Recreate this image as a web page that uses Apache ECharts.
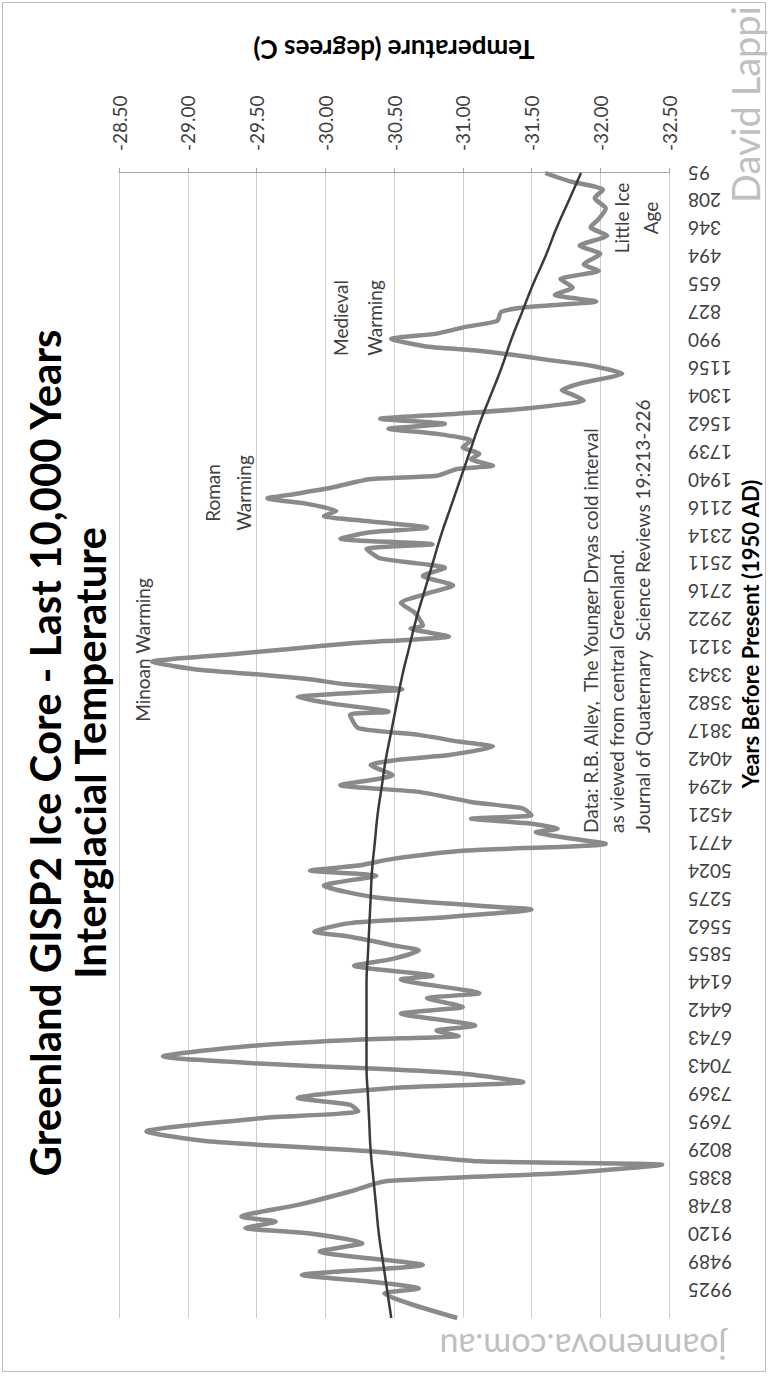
<!DOCTYPE html>
<html><head><meta charset="utf-8">
<script src="https://cdn.jsdelivr.net/npm/echarts@6/dist/echarts.min.js"></script>
<style>
html,body{margin:0;padding:0;background:#fff;overflow:hidden;width:769px;height:1377px;}
#chart{position:absolute;left:0;top:0;width:1377px;height:769px;transform-origin:0 0;transform:translate(0,1377px) rotate(-90deg);}
</style></head><body>
<div id="chart"></div>
<script>
// Category labels (years before present), one per label slot, youngest first
const yearLabels = [95,208,346,494,655,827,990,1156,1304,1562,1739,1940,2116,2314,2511,2716,2922,3121,3343,3582,3817,4042,4294,4521,4771,5024,5275,5562,5855,6144,6442,6743,7043,7369,7695,8029,8385,8748,9120,9489,9925];
// Temperature trace: position along the category axis (in label slots) and temperature (deg C)
const tempPos = [0,0.3,0.6,0.9,1.27,1.64,1.94,2.24,2.6,2.9,3.27,3.5,3.8,4.1,4.36,4.6,4.8,4.97,5.3,5.5,5.76,5.94,6.2,6.35,6.5,6.7,6.88,7.18,7.54,7.78,7.9,8.14,8.44,8.62,8.8,8.98,9.16,9.34,9.58,9.82,10.06,10.24,10.48,10.6,10.84,10.96,11.26,11.5,11.65,11.84,12.1,12.28,12.46,12.7,12.88,13.1,13.29,13.46,13.8,14.14,14.43,14.77,15.06,15.4,15.74,16.2,16.31,16.6,16.71,16.83,17.05,17.25,17.5,17.8,17.95,18.14,18.31,18.49,18.77,19.0,19.29,19.4,19.88,20.12,20.36,20.54,20.84,21.0,21.2,21.56,21.92,22.16,22.52,22.76,23.0,23.12,23.3,23.48,23.6,24.02,24.26,24.56,24.8,24.98,25.16,25.52,25.94,26.24,26.37,26.67,26.86,27.16,27.35,27.65,27.84,28.14,28.39,28.75,28.88,29.37,29.55,29.86,30.1,30.53,30.71,30.9,31.02,31.26,31.63,31.88,32.06,32.24,32.55,32.76,33.12,33.36,33.6,33.84,34.32,34.67,35.03,35.39,35.51,35.81,36.11,36.47,36.95,37.37,37.55,37.78,37.96,38.32,38.62,39.1,39.46,39.7,39.94,40.12,41.0];
const tempVals = [-31.60,-31.78,-32.02,-31.96,-32.04,-31.99,-31.93,-32.05,-31.85,-32.00,-31.88,-31.99,-31.71,-31.80,-31.67,-31.97,-31.47,-31.28,-31.25,-31.03,-30.80,-30.48,-30.72,-31.08,-31.35,-31.63,-31.91,-32.16,-31.85,-31.72,-31.78,-31.88,-31.44,-30.96,-30.40,-30.87,-30.46,-30.81,-31.06,-31.00,-31.12,-31.06,-31.22,-30.96,-30.81,-30.33,-30.05,-29.77,-29.58,-29.86,-30.08,-29.99,-30.30,-30.74,-30.30,-30.11,-30.78,-30.30,-30.40,-30.87,-30.71,-30.93,-30.74,-30.55,-30.65,-30.71,-30.62,-30.90,-30.62,-30.21,-29.72,-29.28,-28.74,-29.10,-29.50,-29.90,-30.15,-30.56,-29.80,-30.05,-30.46,-30.18,-30.24,-30.68,-30.97,-31.22,-30.90,-30.55,-30.33,-30.49,-30.11,-30.68,-31.06,-31.44,-31.50,-31.06,-31.50,-31.69,-31.53,-32.04,-31.03,-30.49,-30.24,-29.89,-30.37,-29.99,-30.37,-31.12,-31.50,-30.81,-30.18,-29.92,-30.18,-30.49,-30.68,-30.49,-30.21,-30.78,-30.55,-31.12,-30.74,-31.00,-30.55,-31.09,-30.81,-30.97,-30.30,-29.45,-28.82,-29.48,-30.30,-30.97,-31.44,-30.49,-29.80,-30.18,-30.24,-29.55,-28.70,-29.14,-30.33,-31.12,-32.45,-31.75,-30.43,-30.18,-29.80,-29.39,-29.64,-29.42,-29.86,-30.27,-29.96,-30.71,-29.83,-30.33,-30.68,-30.43,-30.96];
// Polynomial trend line, read at each label slot (0..41)
const trendVals = [-31.86,-31.77,-31.68,-31.60,-31.51,-31.43,-31.35,-31.28,-31.20,-31.12,-31.05,-30.98,-30.91,-30.84,-30.78,-30.72,-30.66,-30.61,-30.56,-30.52,-30.48,-30.44,-30.41,-30.38,-30.36,-30.34,-30.33,-30.32,-30.31,-30.30,-30.30,-30.30,-30.30,-30.31,-30.32,-30.33,-30.35,-30.37,-30.39,-30.42,-30.45,-30.48];

const FONT = 'Lato, "Open Sans", sans-serif';
const chart = echarts.init(document.getElementById('chart'), null, {renderer: 'svg'});
const tempData = tempPos.map((p, i) => [p, tempVals[i]]);
const trendData = trendVals.map((v, i) => [i, v]);

chart.setOption({
  animation: false,
  backgroundColor: '#ffffff',
  textStyle: {fontFamily: FONT},
  grid: {left: 59, right: 173, top: 119, bottom: 100},
  xAxis: {
    type: 'value', min: 0, max: 41, interval: 1, inverse: true,
    axisLine: {show: false}, axisTick: {show: false}, splitLine: {show: false},
    axisLabel: {
      rotate: 90, margin: 19, fontSize: 19, color: '#404040', fontFamily: FONT,
      formatter: v => (yearLabels[v] !== undefined ? String(yearLabels[v]) : '')
    }
  },
  yAxis: {
    type: 'value', position: 'right', min: -32.5, max: -28.5, interval: 0.5,
    name: 'Temperature (degrees C)', nameLocation: 'middle', nameRotate: 90, nameGap: 110,
    nameTextStyle: {fontSize: 26, fontWeight: 'bold', color: '#000', fontFamily: FONT},
    axisLine: {show: true, lineStyle: {color: '#a6a6a6', width: 1}},
    axisTick: {show: true, length: 5, lineStyle: {color: '#a6a6a6'}},
    splitLine: {show: true, lineStyle: {color: '#cfcfcf', width: 1}},
    axisLabel: {margin: 22, fontSize: 19, color: '#404040', fontFamily: FONT, formatter: v => v.toFixed(2)}
  },
  series: [
    {type: 'line', name: 'Temperature', data: tempData, showSymbol: false, smooth: 0.2,
     lineStyle: {color: '#8a8a8a', width: 4.5}, z: 2},
    {type: 'line', name: 'Trend', data: trendData, showSymbol: false, smooth: true,
     lineStyle: {color: '#3a3a3a', width: 2.5}, z: 3}
  ],
  graphic: [
    {type: 'rect', shape: {x: 5.5, y: 2.5, width: 1369, height: 763}, style: {fill: 'none', stroke: '#bdbdbd', lineWidth: 1}, silent: true},
    {type: 'text', x: 624, y: 22, style: {text: 'Greenland GISP2 Ice Core - Last 10,000 Years\nInterglacial Temperature', align: 'center', verticalAlign: 'top', fontSize: 42, lineHeight: 45, fontWeight: 'bold', fill: '#000', fontFamily: FONT}},
    {type: 'text', x: 743, y: 750, style: {text: 'Years Before Present (1950 AD)', align: 'center', verticalAlign: 'middle', fontSize: 22, fontWeight: 'bold', fill: '#000', fontFamily: FONT}},
    {type: 'text', x: 727, y: 142, style: {text: 'Minoan Warming', align: 'center', verticalAlign: 'middle', fontSize: 19, fill: '#404040', fontFamily: FONT}},
    {type: 'text', x: 884, y: 228, style: {text: 'Roman\nWarming', align: 'center', verticalAlign: 'middle', fontSize: 19, lineHeight: 31, fill: '#404040', fontFamily: FONT}},
    {type: 'text', x: 1059, y: 357, style: {text: 'Medieval\nWarming', align: 'center', verticalAlign: 'middle', fontSize: 19, lineHeight: 34, fill: '#404040', fontFamily: FONT}},
    {type: 'text', x: 1159, y: 636, style: {text: 'Little Ice\nAge', align: 'center', verticalAlign: 'middle', fontSize: 19, lineHeight: 29, fill: '#404040', fontFamily: FONT}},
    {type: 'text', x: 544, y: 577, style: {text: 'Data: R.B. Alley,  The Younger Dryas cold interval\nas viewed from central Greenland.\nJournal of Quaternary  Science Reviews 19:213-226', align: 'left', verticalAlign: 'top', fontSize: 19, lineHeight: 26, fill: '#404040', fontFamily: FONT}},
    {type: 'text', x: 1174, y: 745, style: {text: 'David Lappi', align: 'left', verticalAlign: 'middle', fontSize: 38, fill: '#bfbfbf', fontFamily: FONT}},
    {type: 'text', x: 30, y: 583, rotation: Math.PI / 2, style: {text: 'joannenova.com.au', align: 'center', verticalAlign: 'middle', fontSize: 34, fill: '#bfbfbf', fontFamily: FONT}}
  ]
});
</script>
</body></html>
